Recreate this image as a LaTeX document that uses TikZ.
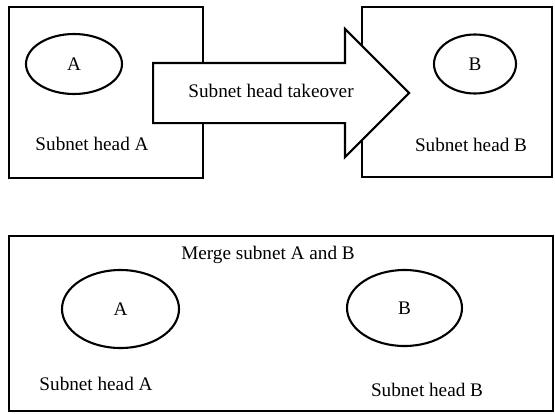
\documentclass[tikz,border=0pt]{standalone}
\usepackage{fontspec}
\setmainfont{Liberation Serif}
\usetikzlibrary{shapes, positioning}

\begin{document}
\begin{tikzpicture}[x=1pt,y=-1pt,line width=2.1pt,
         font=\fontsize{19.2}{23}\selectfont,
         head node/.style={ellipse,draw,inner sep=0pt},
         net box/.style={rectangle,draw,inner sep=0pt},
         txt node/.style={anchor=base,inner sep=0pt}] %sizes are in pixels of the reference
 \useasboundingbox (0,0) rectangle (555,413);

       % before the takeover
       \node[net box, minimum width=194, minimum height=171] (netA) at (106,92.5) {};
       \node[net box, minimum width=190, minimum height=170] (netB) at (457,92) {};
       \node[head node, minimum width=96, minimum height=60] (A) at (74,64) {A};
       \node[head node, minimum width=82, minimum height=59] (B) at (475,64) {B};
       \node[txt node] (headA) at (92,150) {Subnet head A};
       \node[txt node] (headB) at (471,151) {Subnet head B};

       \node[single arrow, draw, fill=white, anchor=tail,
             single arrow head extend=34, minimum height=256,
             text height=13, text depth=4, inner ysep=20.5] (takeover) at (152,93) {\hspace*{10pt}Subnet head takeover};

       % after the merge
       \node[net box, minimum width=544, minimum height=175] (netAB) at (281,323.5) {};
       \node[txt node] (merge) at (268,259) {Merge subnet A and B};
       \node[head node, minimum width=117, minimum height=78] (A2) at (120.5,309) {A};
       \node[head node, minimum width=115, minimum height=76] (B2) at (404.5,308) {B};
       \node[txt node] (headA2) at (96,390) {Subnet head A};
       \node[txt node] (headB2) at (427,396) {Subnet head B};
      \end{tikzpicture}
\end{document}
